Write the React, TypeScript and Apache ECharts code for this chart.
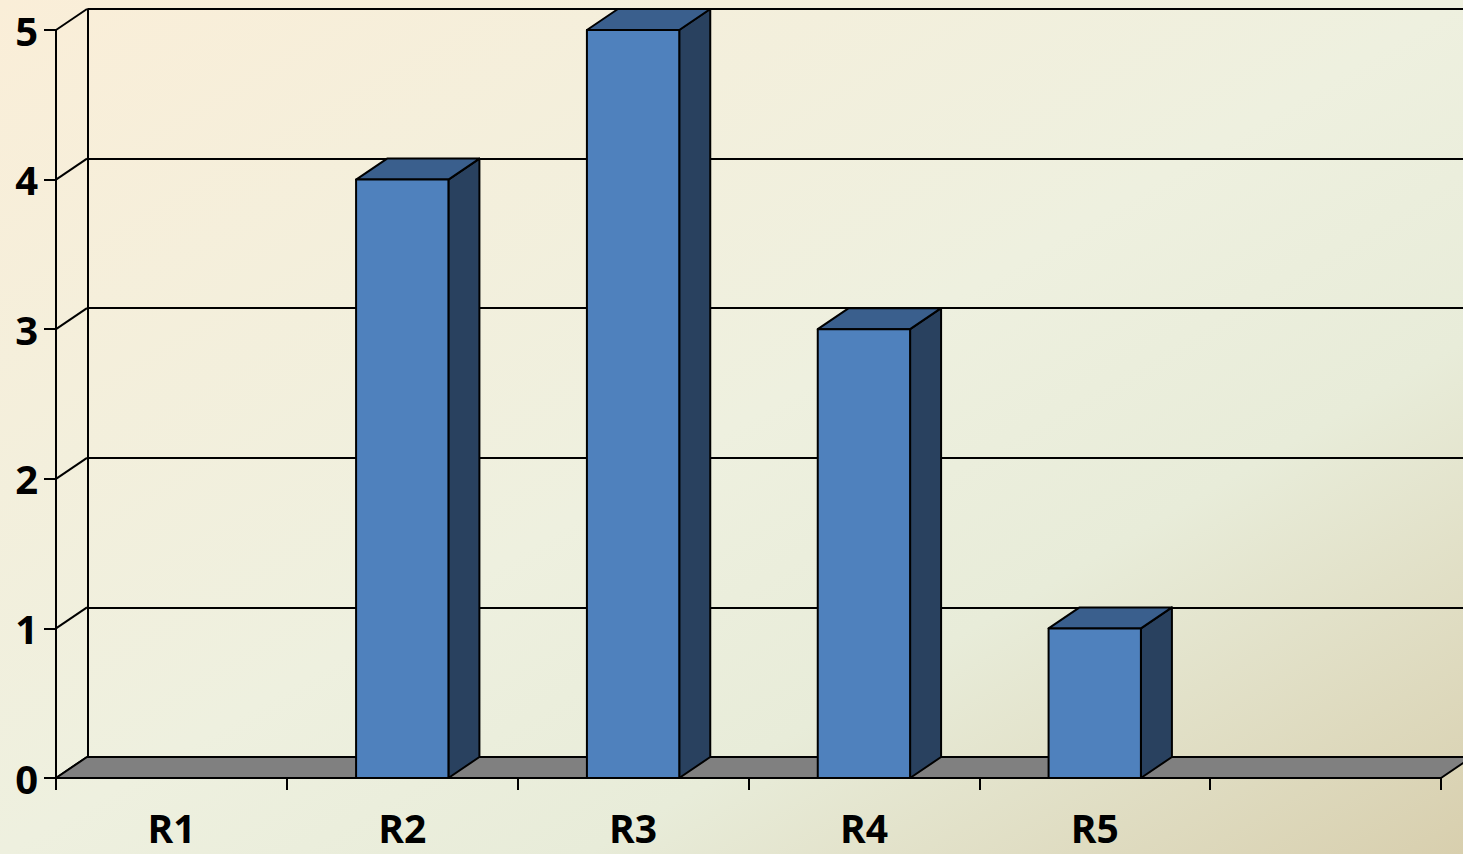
import React, { useEffect, useRef } from "react";
import * as echarts from "echarts";

const categories = ["R1", "R2", "R3", "R4", "R5", ""];
const values = [0, 4, 5, 3, 1];
const yTicks = [0, 1, 2, 3, 4, 5];

const DX = 31;
const DY = -21;

export default function App() {
  const ref = useRef<HTMLDivElement>(null);
  useEffect(() => {
    if (!ref.current) return;
    const chart = echarts.init(ref.current, null, { renderer: "svg" });
    const labelFont = {
      fontFamily: "'Open Sans', 'Liberation Sans', sans-serif",
      fontWeight: "bold" as const,
      fontSize: 40,
      color: "#000",
    };
    const option: any = {
      animation: false,
      backgroundColor: "transparent",
      grid: [
        { left: 56, right: 22, top: 30, bottom: 76 },
        { left: 88, right: 0, top: 9, bottom: 97 },
      ],
      xAxis: [
        {
          type: "category",
          gridIndex: 0,
          data: categories,
          boundaryGap: true,
          axisLine: { show: false },
          axisTick: {
            show: true,
            length: 12,
            lineStyle: { color: "#000", width: 2 },
          },
          axisLabel: { ...labelFont, fontSize: 39, lineHeight: 36, margin: 31 },
          splitLine: { show: false },
        },
        {
          type: "category",
          gridIndex: 1,
          data: categories,
          show: false,
        },
      ],
      yAxis: [
        {
          type: "value",
          gridIndex: 0,
          min: 0,
          max: 5,
          interval: 1,
          axisLine: { show: true, lineStyle: { color: "#000", width: 2 } },
          axisTick: {
            show: true,
            length: 12,
            lineStyle: { color: "#000", width: 2 },
          },
          axisLabel: { ...labelFont, margin: 18 },
          splitLine: { show: false },
        },
        {
          type: "value",
          gridIndex: 1,
          min: 0,
          max: 5,
          interval: 1,
          axisLine: { show: true, lineStyle: { color: "#000", width: 2 } },
          axisTick: { show: false },
          axisLabel: { show: false },
          splitLine: { show: true, lineStyle: { color: "#000", width: 2 } },
        },
      ],
      series: [
        {
          // side wall diagonals
          type: "custom",
          xAxisIndex: 0,
          yAxisIndex: 0,
          z: 1,
          silent: true,
          data: yTicks.map((v) => [0, v]),
          renderItem: (params: any, api: any) => {
            const p = api.coord([0, api.value(1)]);
            const band = api.size([1, 0])[0];
            const x0 = p[0] - band / 2;
            return {
              type: "line",
              shape: { x1: x0, y1: p[1], x2: x0 + DX, y2: p[1] + DY },
              style: { stroke: "#000", lineWidth: 2 },
            };
          },
        },
        {
          // floor
          type: "custom",
          xAxisIndex: 0,
          yAxisIndex: 0,
          z: 2,
          silent: true,
          clip: false,
          data: [[0, 0]],
          renderItem: (params: any, api: any) => {
            const band = api.size([1, 0])[0];
            const pl = api.coord([0, 0]);
            const pr = api.coord([categories.length - 1, 0]);
            const xl = pl[0] - band / 2;
            const xr = pr[0] + band / 2;
            const y = pl[1];
            return {
              type: "polygon",
              shape: {
                points: [
                  [xl, y],
                  [xr, y],
                  [xr + DX, y + DY],
                  [xl + DX, y + DY],
                ],
              },
              style: { fill: "#808080", stroke: "#000", lineWidth: 2, lineJoin: "round" },
            };
          },
        },
        {
          // 3D bars
          type: "custom",
          xAxisIndex: 0,
          yAxisIndex: 0,
          z: 3,
          silent: true,
          clip: false,
          data: values.map((v, i) => [i, v]),
          renderItem: (params: any, api: any) => {
            const v = api.value(1);
            if (!v) return null;
            const top = api.coord([api.value(0), v]);
            const bot = api.coord([api.value(0), 0]);
            const band = api.size([1, 0])[0];
            const w = band * 0.4;
            const xl = top[0] - w / 2;
            const xr = top[0] + w / 2;
            const yt = top[1];
            const yb = bot[1];
            const stroke = { stroke: "#000", lineWidth: 2, lineJoin: "round" };
            return {
              type: "group",
              children: [
                {
                  type: "polygon",
                  shape: {
                    points: [
                      [xr, yt],
                      [xr + DX, yt + DY],
                      [xr + DX, yb + DY],
                      [xr, yb],
                    ],
                  },
                  style: { fill: "#29415f", ...stroke },
                },
                {
                  type: "polygon",
                  shape: {
                    points: [
                      [xl, yt],
                      [xr, yt],
                      [xr + DX, yt + DY],
                      [xl + DX, yt + DY],
                    ],
                  },
                  style: { fill: "#3a5f8d", ...stroke },
                },
                {
                  type: "rect",
                  shape: { x: xl, y: yt, width: xr - xl, height: yb - yt },
                  style: { fill: "#4f81bd", ...stroke },
                },
              ],
            };
          },
        },
      ],
    };
    chart.setOption(option);
    return () => chart.dispose();
  }, []);
  return (
    <div
      ref={ref}
      style={{
        position: "fixed",
        left: 0,
        top: 0,
        width: 1463,
        height: 854,
        background:
          "linear-gradient(to bottom right, #faeed8 0%, #eef0df 50%, #e8ecd9 70%, #d8cfae 100%)",
      }}
    />
  );
}
